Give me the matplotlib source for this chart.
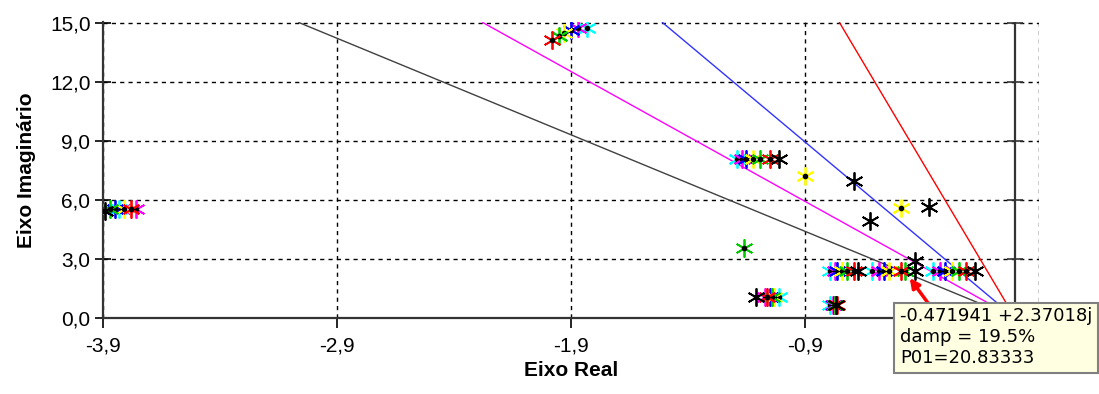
import numpy as np
import matplotlib.pyplot as plt
from matplotlib.patches import Rectangle
from matplotlib.ticker import FuncFormatter

plt.rcParams['font.family'] = ['Liberation Sans', 'DejaVu Sans']

# poles (real, imag), one list per colour / case
red_x = [-3.78, -1.98, -1.05, -0.69, -0.49, -0.21, -1.06, -0.76]
red_y = [5.55, 14.10, 8.05, 2.40, 2.40, 2.40, 1.08, 0.66]
green_x = [-3.87, -1.95, -1.09, -0.72, -0.472, -0.24, -1.04, -0.77, -1.16]
green_y = [5.55, 14.30, 8.05, 2.40, 2.37, 2.40, 1.08, 0.66, 3.55]
yellow_x = [-3.81, -1.93, -1.12, -0.74, -0.54, -0.27, -1.03, -0.77, -0.90, -0.49]
yellow_y = [5.55, 14.45, 8.05, 2.40, 2.40, 2.40, 1.08, 0.66, 7.20, 5.57]
blue_x = [-3.85, -1.90, -1.15, -0.76, -0.56, -0.30, -1.05, -0.775]
blue_y = [5.55, 14.60, 8.05, 2.40, 2.40, 2.40, 1.08, 0.66]
magenta_x = [-3.76, -1.87, -1.17, -0.77, -0.58, -0.32, -1.07, -0.78]
magenta_y = [5.55, 14.70, 8.05, 2.40, 2.40, 2.40, 1.08, 0.66]
cyan_x = [-3.83, -1.83, -1.19, -0.79, -0.61, -0.35, -1.01, -0.79]
cyan_y = [5.55, 14.75, 8.05, 2.40, 2.40, 2.40, 1.08, 0.66]
black_x = [-3.89, -1.01, -0.67, -0.43, -0.17, -1.11, -0.765, -0.69, -0.37, -0.62, -0.43]
black_y = [5.42, 8.05, 2.40, 2.40, 2.40, 1.08, 0.66, 6.95, 5.63, 4.92, 2.90]

series = [(red_x, red_y, '#FF0000'), (green_x, green_y, '#00CC00'),
          (yellow_x, yellow_y, '#FFFF00'), (blue_x, blue_y, '#0000FF'),
          (magenta_x, magenta_y, '#FF00FF'), (cyan_x, cyan_y, '#00FFFF')]
series = series[::-1] + [(black_x, black_y, '#000000')]

# damping ratio lines
damping = [0.05, 0.10, 0.15, 0.20]
damp_colors = ['#FF0000', '#3333FF', '#FF00FF', '#404040']

xticks = [-3.9, -2.9, -1.9, -0.9, 0.1]
yticks = [0, 3, 6, 9, 12, 15]

tip_x, tip_y = -0.471941, 2.37018
tip_text = '-0.471941 +2.37018j\ndamp = 19.5%\nP01=20.83333'

W, H = 1099, 394
fig = plt.figure(figsize=(W / 100, H / 100), dpi=100)
ax = fig.add_axes([103 / W, 1 - 318 / H, (1039 - 103) / W, (318 - 22) / H])

for z, c in zip(damping, damp_colors):
    yy = np.array([0, 15.0])
    ax.plot(-yy * z / np.sqrt(1 - z ** 2), yy, color=c, lw=1, zorder=2)

ast = (6, 2, 0)
for xs, ys, c in series:
    ax.plot(xs, ys, ls='none', marker=ast, ms=13, mew=1.3, mec=c, color=c, zorder=3)
    ax.plot(xs, ys, ls='none', marker='o', ms=3, color='black', zorder=3)

# imaginary axis at x = 0
ax.axvline(0, color='#333333', lw=1.6, zorder=2.5)
ax.plot(np.zeros(len(yticks)), yticks, ls='none', marker='_', ms=12, mew=1.2,
        color='#333333', zorder=2.5, clip_on=False)

ax.set_xlim(-3.9, 0.102)
ax.set_ylim(0, 15.03)
ax.set_xticks(xticks)
ax.set_yticks(yticks)
# the 0,1 label sits under the tooltip in the original
ax.xaxis.set_major_formatter(FuncFormatter(
    lambda v, p: '' if v > 0 else f'{v:.1f}'.replace('.', ',')))
ax.yaxis.set_major_formatter(FuncFormatter(lambda v, p: f'{v:.1f}'.replace('.', ',')))
ax.tick_params(axis='x', direction='out', length=7, width=1.2, labelsize=15, pad=6)
ax.tick_params(axis='y', direction='inout', length=12, width=1.2, labelsize=15, pad=3)
ax.grid(True, color='black', ls=(0, (3, 3)), lw=1)
ax.set_axisbelow(True)
for s in ['top', 'right']:
    ax.spines[s].set_visible(False)
for s in ['left', 'bottom']:
    ax.spines[s].set_color('#333333')
    ax.spines[s].set_linewidth(1.6)

ax.set_xlabel('Eixo Real', fontsize=15, fontweight='bold', labelpad=4)
ax.set_ylabel('Eixo Imaginário', fontsize=15, fontweight='bold', labelpad=10)

# tooltip box
fig.add_artist(Rectangle((894 / W, 21 / H), 204 / W, 70 / H, transform=fig.transFigure,
                         facecolor='#FFFFE1', edgecolor='#808080', lw=1.5, zorder=10))
fig.text(900 / W, 1 - 307 / H, tip_text, ha='left', va='top', fontsize=13,
         family='DejaVu Sans', linespacing=1.22, zorder=11)
ax.annotate('', xy=(tip_x, tip_y), xytext=(928 / W, 1 - 303 / H), textcoords='figure fraction',
            arrowprops=dict(arrowstyle='-|>', color='#FF0000', lw=2.5, mutation_scale=14,
                            shrinkA=0, shrinkB=6), zorder=12, annotation_clip=False)

fig.savefig('out.png', dpi=100)
